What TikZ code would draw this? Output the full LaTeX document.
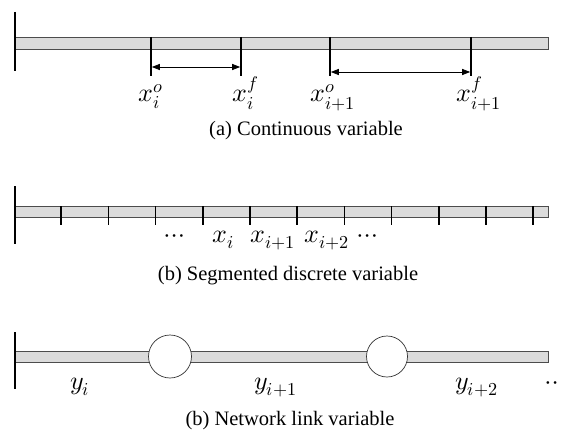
\documentclass[tikz,border=0pt]{standalone}
\usepackage{fontspec}
\usepackage{unicode-math}
\setmainfont{Liberation Serif}
\setmathfont{Latin Modern Math}
\usetikzlibrary{arrows.meta}
\begin{document}
\begin{tikzpicture}[x=1pt,y=-1pt,
  bar/.style={draw=black!70, fill=black!14, line width=0.8pt, rectangle, inner sep=0pt, anchor=north west, minimum width=534pt},
  endline/.style={line width=1.6pt},
  tickline/.style={line width=1.6pt},
  dim/.style={line width=0.9pt, {Triangle[length=8pt,width=6pt]}-{Triangle[length=8pt,width=6pt]}, shorten <=0.8pt, shorten >=0.8pt},
  lbl/.style={font=\fontsize{26}{30}\selectfont, inner sep=0pt, anchor=base west},
  captext/.style={font=\fontsize{20.5}{24}\selectfont, inner sep=0pt, anchor=base},
  joint/.style={circle, draw=black!80, fill=white, inner sep=0pt, line width=0.7pt}]
\useasboundingbox (0,0) rectangle (561,433);

% ---------- (a) continuous variable ----------
\node[bar, minimum height=12pt] (barA) at (14,37) {};
\coordinate (aL1) at (15,12); \coordinate (aL2) at (15,71);
\draw[endline] (aL1) -- (aL2);
\foreach \n/\x in {1/151,2/241,3/330,4/471}{
  \coordinate (at\n) at (\x,37);
  \coordinate (ab\n) at (\x,76);
  \draw[tickline] (at\n) -- (ab\n);
}
\coordinate (d1s) at (151,67); \coordinate (d1e) at (241,67);
\coordinate (d2s) at (330,72); \coordinate (d2e) at (471,72);
\draw[dim] (d1s) -- (d1e);
\draw[dim] (d2s) -- (d2e);
\node[lbl] (la1) at (138,102) {$x_i^o$};
\node[lbl] (la2) at (232,102) {$x_i^f$};
\node[lbl] (la3) at (310,102) {$x_{i+1}^o$};
\node[lbl] (la4) at (456,102) {$x_{i+1}^f$};
\node[captext] (capA) at (306,135) {(a) Continuous variable};

% ---------- (b) segmented discrete variable ----------
\node[bar, minimum height=11pt] (barB) at (14,206) {};
\coordinate (bL1) at (15,186); \coordinate (bL2) at (15,244);
\draw[endline] (bL1) -- (bL2);
\foreach \k in {1,...,11}{
  \coordinate (bt\k) at ({14+47.2*\k},206);
  \coordinate (bb\k) at ({14+47.2*\k},225);
  \draw[tickline] (bt\k) -- (bb\k);
}
\node[lbl] (lb0) at (164,242) {$\cdots$};
\node[lbl] (lb1) at (212,242) {$x_i$};
\node[lbl] (lb2) at (250,242) {$x_{i+1}$};
\node[lbl] (lb3) at (304,242) {$x_{i+2}$};
\node[lbl] (lb4) at (357,242) {$\cdots$};
\node[captext] (capB) at (288,280) {(b) Segmented discrete variable};

% ---------- (c) network link variable ----------
\node[bar, minimum height=11pt] (barC) at (14,351) {};
\coordinate (cL1) at (15,332); \coordinate (cL2) at (15,389);
\draw[endline] (cL1) -- (cL2);
\node[joint, minimum size=43pt] (n1) at (170,356.5) {};
\node[joint, minimum size=41pt] (n2) at (387,356.5) {};
\node[lbl] (lc1) at (70,389) {$y_i$};
\node[lbl] (lc2) at (254,389) {$y_{i+1}$};
\node[lbl] (lc3) at (455,389) {$y_{i+2}$};
\node[lbl] (lc4) at (545,389) {$\cdots$};
\node[captext] (capC) at (290,425) {(b) Network link variable};
\end{tikzpicture}
\end{document}
